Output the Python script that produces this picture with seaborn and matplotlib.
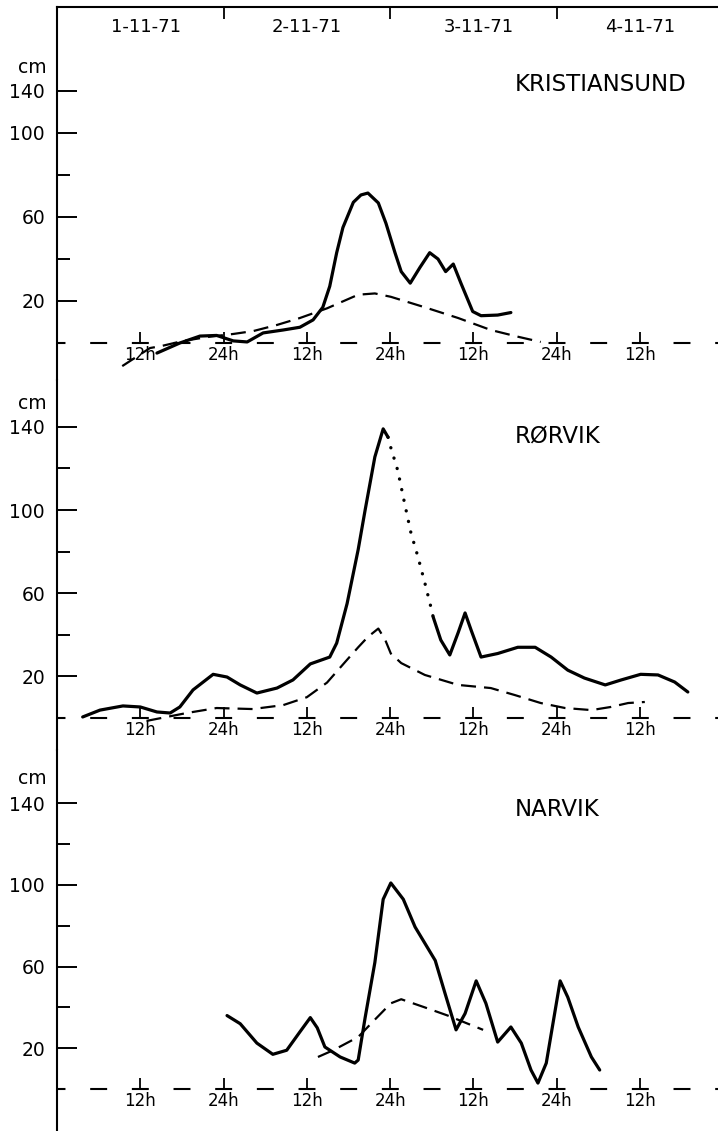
import numpy as np
import pandas as pd
import matplotlib
matplotlib.use("Agg")
import matplotlib.pyplot as plt
import seaborn as sns

sns.set_style("white")
plt.rcParams['font.family'] = ['DejaVu Sans']
plt.rcParams['lines.scale_dashes'] = False
plt.rcParams['text.color'] = 'black'

# time axis: hours since 1-11-71 00h
days = ['1-11-71', '2-11-71', '3-11-71', '4-11-71']
day_mid = [12.8, 36, 60.8, 84]
hour_ticks = [12, 24, 36, 48, 60, 72, 84]
hour_labels = ['12h', '24h', '12h', '24h', '12h', '24h', '12h']

# KRISTIANSUND
kri_t = [14.4, 17.7, 20.6, 23.0, 25.4, 27.4, 29.7, 32.6, 35.0, 36.9, 38.3, 39.3, 40.3, 41.2,
         42.7, 43.8, 44.8, 46.3, 47.4, 48.7, 49.6, 50.9, 52.3, 53.7, 54.9, 56.0, 57.1, 58.2,
         59.9, 61.1, 63.5, 65.4]
kri_cm = [-4.8, 0, 3.3, 3.6, 1.0, 0.5, 4.8, 6.2, 7.5, 11, 17, 27, 43, 55,
          67, 70.5, 71.4, 66.7, 57, 43, 34, 28.5, 36, 43, 40, 34, 37.6, 28.5,
          15, 13, 13.3, 14.5]
kri_calc_t = [9.4, 13.4, 15.1, 18.2, 22.0, 25.4, 28.3, 31.7, 35.0, 38.9, 43.4, 45.8, 48.1,
              53.0, 57.8, 62.5, 66.4, 69.7]
kri_calc_cm = [-11, -2.4, -1.4, 1, 3, 4.3, 5.7, 8.6, 11.9, 16.5, 23, 23.6, 22,
               17, 11.9, 6.2, 3, 0.5]

# RØRVIK
ror_t = [3.7, 6.2, 9.5, 12.0, 14.4, 16.3, 17.7, 19.6, 22.5, 24.5, 26.4, 28.8, 31.7, 34.0,
         36.5, 39.3, 40.3, 41.8, 43.4, 44.4, 45.8, 47.0, 47.7]
ror_cm = [0.5, 3.8, 5.8, 5.3, 2.9, 2.4, 5.3, 13.5, 21, 19.7, 15.9, 12, 14.4, 18.3,
          26, 29.3, 36, 55, 81, 100, 125.5, 139, 135]
ror_gap_t = [47.7, 48.1, 49.1, 50.1, 51.0, 52.0, 53.0, 53.9, 54.2]
ror_gap_cm = [135, 130, 119, 103, 89, 77.6, 65, 53, 48.6]
ror2_t = [54.2, 55.3, 56.6, 57.8, 58.8, 59.7, 61.1, 63.5, 66.4, 68.9, 71.2, 73.6, 76.0,
          79.0, 81.3, 84.1, 86.6, 89.0, 90.9]
ror2_cm = [48.6, 37.5, 30.3, 41, 50.5, 42, 29.3, 31, 34, 34, 29.3, 23, 19.2,
           15.9, 18.3, 21, 20.7, 17.3, 12.5]
ror_calc_t = [12.9, 15.8, 18.7, 23.0, 28.2, 32.6, 36.0, 38.9, 41.8, 43.4, 44.8, 46.3, 47.3,
              48.1, 49.6, 53.0, 57.8, 62.5, 66.0, 69.7, 73.2, 77.0, 79.8, 82.3, 84.7]
ror_calc_cm = [-1.4, 0.5, 2.4, 4.8, 4.3, 6.2, 10, 17, 28, 34, 39, 43, 37.5,
               31, 26.4, 20.7, 15.9, 14.4, 11, 7.2, 4.8, 3.8, 5.3, 7.2, 7.7]

# NARVIK
nar_t = [24.5, 26.4, 28.8, 31.1, 33.1, 35.0, 36.5, 37.5, 38.6, 40.8, 42.9, 43.4, 44.4, 45.8,
         47.0, 48.1, 49.9, 51.6, 54.5, 55.9, 57.5, 58.8, 60.4, 61.8, 63.5, 65.4, 66.9, 68.3,
         69.3, 70.5, 72.5, 73.6, 75.1, 77.0, 78.2]
nar_cm = [36, 32, 22.5, 17, 19, 28, 35, 30, 20.6, 15.7, 12.7, 14.2, 35, 62,
          93, 101, 93, 79.4, 63, 47, 29, 37, 53, 42, 23, 30.4, 22.5, 9.3,
          2.9, 12.7, 53, 45, 30.4, 15.7, 9.3]
nar_calc_t = [37.6, 39.8, 43.4, 45.8, 48.1, 49.6, 53.0, 56.3, 59.2, 61.4]
nar_calc_cm = [15.7, 19, 25.5, 34, 42, 44, 40, 36, 32, 29]

W, H = 718, 1131
fig = plt.figure(figsize=(W / 100, H / 100), dpi=100)


def add_panel(top, bottom, zero, px_per_cm):
    ax = fig.add_axes([57 / W, 1 - bottom / H, (W - 57) / W, (bottom - top) / H])
    ax.set_xlim(0, (W - 57) / 6.94)
    ax.set_ylim(-(bottom - zero) / px_per_cm, (zero - top) / px_per_cm)
    return ax


ax1 = add_panel(7, 380, 343, 2.1)
ax2 = add_panel(380, 750, 718, 2.08)
ax3 = add_panel(750, 1131, 1089, 2.04)

solid = dict(color='black', lw=2.3, sort=False, estimator=None,
             solid_joinstyle='round', solid_capstyle='round')
dashed = dict(color='black', lw=1.6, sort=False, estimator=None, linestyle=(0, (10.8, 5.8)))

sns.lineplot(x=kri_t, y=kri_cm, ax=ax1, **solid)
sns.lineplot(x=kri_calc_t, y=kri_calc_cm, ax=ax1, **dashed)

sns.lineplot(x=ror_t, y=ror_cm, ax=ax2, **solid)
sns.lineplot(x=ror_gap_t, y=ror_gap_cm, ax=ax2, color='black', lw=2.4, sort=False,
             estimator=None, linestyle=(0, (0.1, 7.7)), dash_capstyle='round')
sns.lineplot(x=ror2_t, y=ror2_cm, ax=ax2, **solid)
sns.lineplot(x=ror_calc_t, y=ror_calc_cm, ax=ax2, **dashed)

sns.lineplot(x=nar_t, y=nar_cm, ax=ax3, **solid)
sns.lineplot(x=nar_calc_t, y=nar_calc_cm, ax=ax3, **dashed)

panels = [(ax1, 'KRISTIANSUND', 123, 131), (ax2, 'RØRVIK', 135.6, 151), (ax3, 'NARVIK', 137, 152)]
for ax, name, name_y, cm_y in panels:
    ax.set_xlabel('')
    ax.set_ylabel('')
    for s in ['top', 'right']:
        ax.spines[s].set_visible(False)
    ax.spines['left'].set_linewidth(1.5)
    ax.spines['left'].set_color('black')
    ax.spines['bottom'].set_position(('data', 0))
    ax.spines['bottom'].set_visible(False)
    # dashed zero line, dashes centred on every 6 h
    ax.axhline(0, color='black', lw=1.5, linestyle=(6.1, (12.2, 17.8)), zorder=1)
    ax.set_xticks(hour_ticks)
    ax.set_xticklabels(hour_labels)
    ax.tick_params(axis='x', direction='in', length=8, width=1.3, pad=2,
                   labelsize=12, colors='black', bottom=True)
    ax.tick_params(axis='y', which='major', direction='in', length=14.4, width=1.4,
                   pad=8.6, labelsize=13.5, colors='black', left=True)
    ax.tick_params(axis='y', which='minor', direction='in', length=9.4, width=1.4,
                   left=True, colors='black')
    ax.text(66, name_y, name, fontsize=16.5, va='center', ha='left', color='black')
    ax.annotate('cm', xy=(0, cm_y), xycoords=('axes fraction', 'data'),
                xytext=(-7.5, 0), textcoords='offset points',
                ha='right', va='center', fontsize=13.5, color='black')
    ax.grid(False)

# top panel: 140 label sits where 120 would be
ax1.set_yticks([20, 60, 100, 120])
ax1.set_yticklabels(['20', '60', '100', '140'])
ax1.set_yticks([40, 80], minor=True)
for ax in [ax2, ax3]:
    ax.set_yticks([20, 60, 100, 140])
    ax.set_yticklabels(['20', '60', '100', '140'])
    ax.set_yticks([40, 80, 120], minor=True)

# date header
ax1.spines['top'].set_visible(True)
ax1.spines['top'].set_linewidth(1.5)
ax1.spines['top'].set_color('black')
top = ax1.secondary_xaxis('top')
top.set_xticks([24, 48, 72])
top.set_xticklabels(['', '', ''])
top.tick_params(direction='in', length=8.6, width=1.3, colors='black', top=True)
top.spines['top'].set_visible(False)
for d, t in zip(days, day_mid):
    ax1.annotate(d, xy=(t, 1), xycoords=('data', 'axes fraction'),
                 xytext=(0, -14.4), textcoords='offset points',
                 ha='center', va='center', fontsize=13, color='black')

fig.savefig('out.png', dpi=100)
